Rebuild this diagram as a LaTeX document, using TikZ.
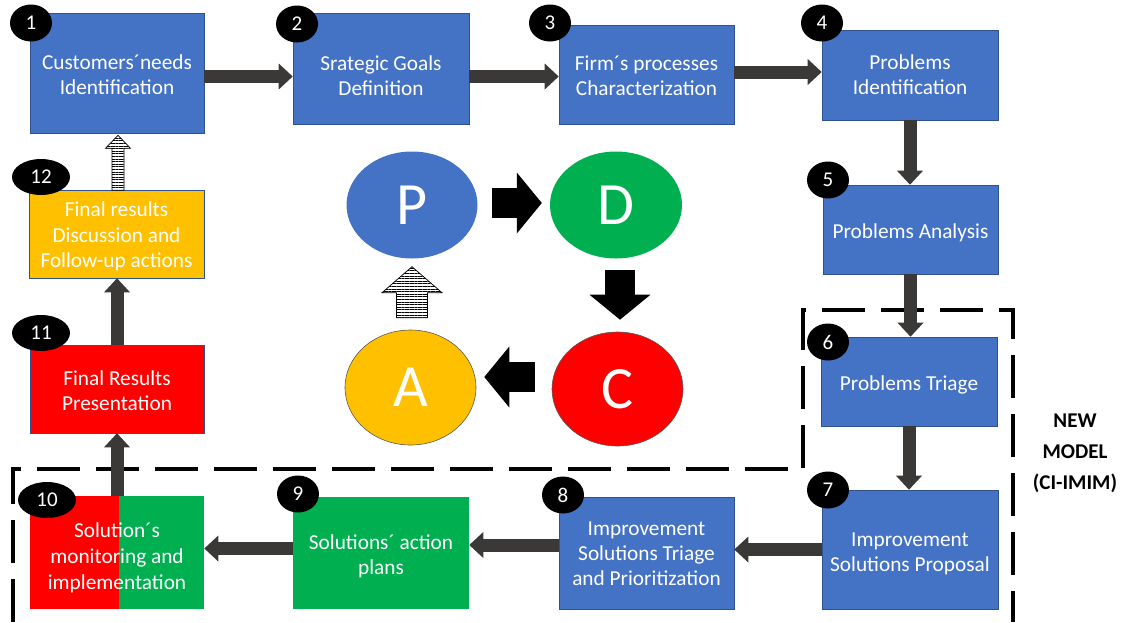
\documentclass[tikz,border=0pt]{standalone}
\usepackage{fontspec}
\setmainfont{Carlito}
\usetikzlibrary{arrows.meta,calc,patterns.meta,shapes.geometric}
\definecolor{bblue}{HTML}{4472C4}
\definecolor{bgreen}{HTML}{00B050}
\definecolor{bred}{HTML}{FF0000}
\definecolor{borange}{HTML}{FFC000}
\definecolor{bord}{HTML}{2F528F}
\definecolor{agray}{HTML}{3B3838}
\tikzset{
  box/.style={rectangle, draw=bord, line width=0.6pt, inner sep=0pt},
  txt/.style={text=white, align=center, inner sep=0pt, font=\fontsize{21.3}{25}\selectfont},
  num/.style={ellipse, fill=black, text=white, inner sep=0pt, minimum width=42pt, minimum height=37pt, font=\fontsize{21}{24}\selectfont},
  numw/.style={num, minimum width=58pt, minimum height=36pt},
  flow/.style={draw=agray, line width=13pt, -{Triangle[length=14pt,width=26pt,line width=0pt]}},
  big/.style={draw=black, line width=30pt, -{Triangle[length=25pt,width=61pt,line width=0pt]}},
  stripe/.style={draw=black, line width=0.7pt, preaction={fill=white}, pattern={Lines[angle=0,distance=2.6pt,line width=1pt]}},
  pdca/.style={ellipse, inner sep=0pt, text=white, font=\fontsize{60}{60}\selectfont},
  dashframe/.style={draw=black, line width=4.5pt, dash pattern=on 43pt off 16pt},
}
\begin{document}
\begin{tikzpicture}[x=1pt,y=-1pt]
\useasboundingbox (0,0) rectangle (1128,622);
% dashed frame of the new model
\draw[dashframe] (13,622) -- (13,469) -- (803,469) -- (803,310) -- (1013,310) -- (1013,622);
% boxes
\node[box, fill=bblue, minimum width=174pt, minimum height=120pt] (b1) at (117,73) {};
\node[box, fill=bblue, minimum width=176pt, minimum height=111pt] (b2) at (381,68.5) {};
\node[box, fill=bblue, minimum width=175pt, minimum height=99pt] (b3) at (646.5,74.5) {};
\node[box, fill=bblue, minimum width=176pt, minimum height=90pt] (b4) at (910,75) {};
\node[box, fill=bblue, minimum width=175pt, minimum height=89pt] (b5) at (910.5,229.5) {};
\node[box, fill=bblue, minimum width=176pt, minimum height=89pt] (b6) at (909,381.5) {};
\node[box, fill=bblue, minimum width=176pt, minimum height=119pt] (b7) at (910,549.5) {};
\node[box, fill=bblue, minimum width=175pt, minimum height=112pt] (b8) at (646.5,553) {};
\node[box, draw=none, fill=bgreen, minimum width=176pt, minimum height=112pt] (b9) at (381,553) {};
\node[box, draw=none, fill=bred, minimum width=174pt, minimum height=113pt,
  path picture={\fill[bgreen] ([xshift=2pt]path picture bounding box.north) rectangle (path picture bounding box.south east);}] (b10) at (117,552.5) {};
\node[box, fill=bred, minimum width=174pt, minimum height=88pt] (b11) at (117,389) {};
\node[box, fill=borange, minimum width=175pt, minimum height=88pt] (b12) at (116.5,234) {};
% box texts
\node[txt] (t1x) at ([yshift=-2pt]b1.center) {Customers´needs\\Identification};
\node[txt] (t2x) at ([yshift=-7pt]b2.center) {Srategic Goals\\Definition};
\node[txt] (t3x) at ([yshift=-1pt]b3.center) {Firm´s processes\\Characterization};
\node[txt] (t4x) at (b4.center) {Problems\\Identification};
\node[txt] (t5x) at ([yshift=-3pt]b5.center) {Problems Analysis};
\node[txt] (t6x) at ([yshift=-3pt]b6.center) {Problems Triage};
\node[txt] (t7x) at ([yshift=-4.5pt]b7.center) {Improvement\\Solutions Proposal};
\node[txt] (t8x) at ([yshift=-1pt]b8.center) {Improvement\\Solutions Triage\\and Prioritization};
\node[txt] (t9x) at ([yshift=-3pt]b9.center) {Solutions´ action\\plans};
\node[txt, font=\fontsize{21.3}{26}\selectfont] (t10x) at ([yshift=-5pt]b10.center) {Solution´s\\monitoring and\\implementation};
\node[txt] (t11x) at ([yshift=-2pt]b11.center) {Final Results\\Presentation};
\node[txt, font=\fontsize{21.3}{25.5}\selectfont] (t12x) at ([yshift=-2.5pt]b12.center) {Final results\\Discussion and\\Follow-up actions};
% flow arrows
\draw[flow] ([yshift=-3.5pt]b1.east) -- ([yshift=-8pt]b2.west);
\draw[flow] ([yshift=-8pt]b2.east) -- ([yshift=-2pt]b3.west);
\draw[flow] ([yshift=2.5pt]b3.east) -- ([yshift=3pt]b4.west);
\draw[flow] (b4.south) -- (b4.south |- b5.north);
\draw[flow] (b5.south) -- (b5.south |- b6.north);
\draw[flow] (b6.south) -- (b6.south |- b7.north);
\draw[flow] (b7.west) -- (b7.west -| b8.east);
\draw[flow] ([yshift=8pt]b8.west) -- ([yshift=8pt]b9.east);
\draw[flow] ([yshift=4.5pt]b9.west) -- ([yshift=4pt]b10.east);
\draw[flow] (b10.north) -- (b11.south);
\draw[flow] (b11.north) -- (b11.north |- b12.south);
\coordinate (t1) at ($(b1.south)+(1,2)$);
\draw[stripe] (t1) -- ++(12.5,13) -- ++(-6.5,0) -- ++(0,42) -- ++(-12,0) -- ++(0,-42) -- ++(-6.5,0) -- cycle;
% number badges
\node[num] (n1) at (31,23) {1};
\node[num] (n2) at (297,24) {2};
\node[num] (n3) at (550,23) {3};
\node[num] (n4) at (822,23) {4};
\node[num] (n5) at (828,180) {5};
\node[num] (n6) at (828,342) {6};
\node[num] (n7) at (828,490) {7};
\node[num] (n8) at (563,495) {8};
\node[num] (n9) at (298,494) {9};
\node[numw] (n10) at (47,500) {10};
\node[numw] (n11) at (41,333) {11};
\node[numw] (n12) at (41,177) {12};
% PDCA
\node[pdca, fill=bblue, minimum width=131pt, minimum height=107pt] (P) at (412,205) {P};
\node[pdca, fill=bgreen, minimum width=132pt, minimum height=107pt] (D) at (616,205) {D};
\node[pdca, fill=borange, draw=gray!70!black, line width=0.6pt, minimum width=131pt, minimum height=115pt] (A) at (410.5,387.5) {A};
\node[pdca, fill=bred, draw=gray!70!black, line width=0.6pt, minimum width=131pt, minimum height=114pt] (C) at (617.5,389) {C};
\draw[big, shorten <=14pt, shorten >=8pt] ([yshift=2pt]P.east) -- ([yshift=2pt]D.west);
\draw[big, shorten <=11pt, shorten >=12pt] ([xshift=4pt]D.south) -- ([xshift=4pt]D.south |- C.north);
\draw[big, shorten <=17pt, shorten >=8pt] ([yshift=12pt]C.west) -- ([yshift=12pt]C.west -| A.east);
\coordinate (tp) at ($(P.south)+(0,8)$);
\draw[stripe] (tp) -- ++(30,26) -- ++(-14.5,0) -- ++(0,25) -- ++(-31,0) -- ++(0,-25) -- ++(-14.5,0) -- cycle;
% label
\node[align=center, font=\bfseries\fontsize{21}{31}\selectfont] (lbl) at (1075,453) {NEW\\MODEL\\(CI-IMIM)};
\end{tikzpicture}
\end{document}
